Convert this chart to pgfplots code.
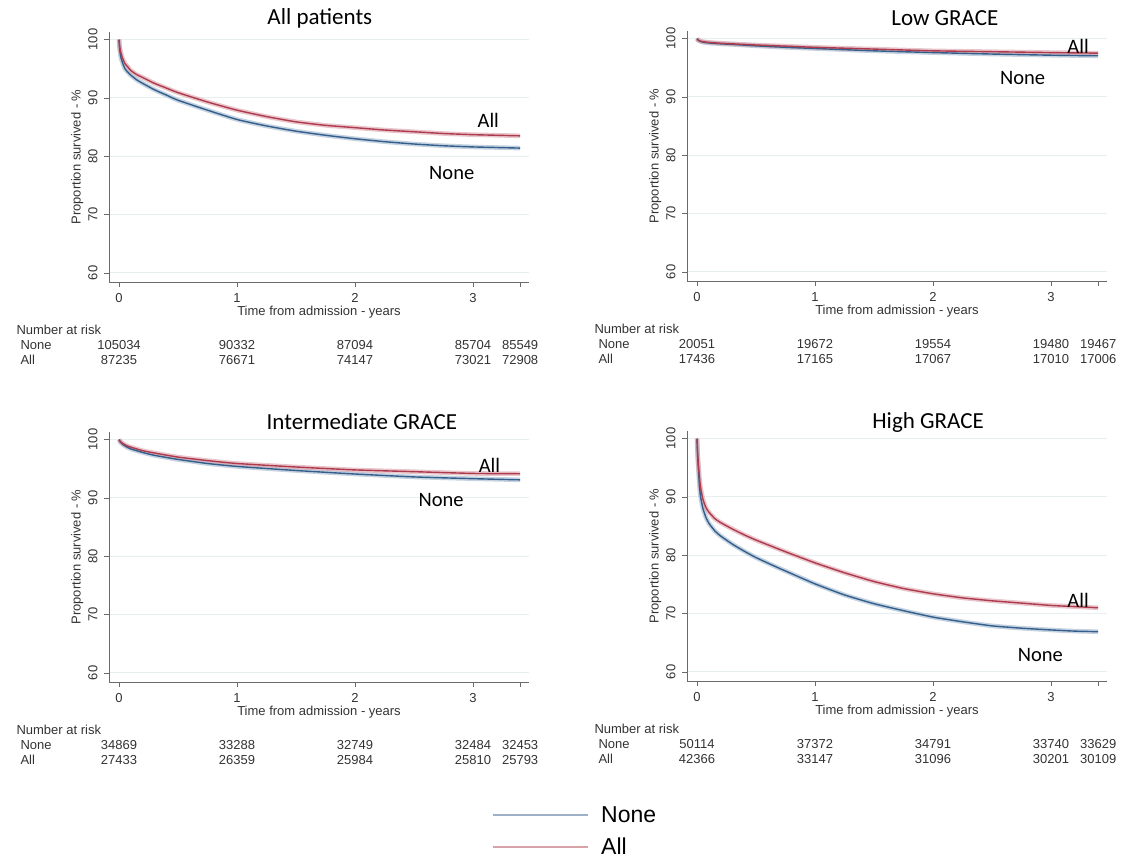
\documentclass[border=0pt]{standalone}
\usepackage{fontspec}
\setmainfont{Liberation Sans}
\newfontfamily\calfont{Carlito}
\usepackage{pgfplots}
\usepackage{pgfplotstable}
\pgfplotsset{compat=1.18}

\definecolor{noneline}{HTML}{345F8C}
\definecolor{noneband}{HTML}{9FB5CD}
\definecolor{allline}{HTML}{AE3A4E}
\definecolor{allband}{HTML}{DBA0A8}
\definecolor{legnone}{HTML}{9DB1C7}
\definecolor{legall}{HTML}{D8A2A9}
\definecolor{axgray}{HTML}{6A6A6A}
\definecolor{gridc}{HTML}{E6F0F0}

\pgfplotstableread{
t none all
0 100 100
0.005 98.4 98.9
0.015 97.0 97.8
0.03 96.0 96.8
0.05 95.0 95.9
0.075 94.4 95.3
0.1 93.9 94.7
0.15 93.1 94.0
0.2 92.5 93.5
0.3 91.4 92.5
0.4 90.5 91.7
0.5 89.6 90.9
0.75 87.9 89.3
1 86.3 87.9
1.25 85.2 86.8
1.5 84.3 85.9
1.75 83.6 85.3
2 83.0 84.9
2.25 82.5 84.5
2.5 82.1 84.2
2.75 81.8 83.9
3 81.6 83.7
3.2 81.5 83.6
3.4 81.4 83.5
}\tabAll

\pgfplotstableread{
t none all
0 100 100
0.01 99.7 99.75
0.03 99.5 99.55
0.06 99.35 99.45
0.1 99.25 99.35
0.2 99.1 99.2
0.3 99.0 99.1
0.5 98.75 98.9
0.75 98.5 98.7
1 98.3 98.5
1.5 97.9 98.2
2 97.6 97.9
2.5 97.35 97.75
3 97.15 97.6
3.4 97.05 97.5
}\tabLow

\pgfplotstableread{
t none all
0 100 100
0.01 99.6 99.7
0.03 99.2 99.35
0.06 98.8 99.0
0.1 98.4 98.7
0.2 97.8 98.1
0.3 97.3 97.7
0.5 96.6 97.0
0.75 95.9 96.4
1 95.4 95.9
1.5 94.7 95.3
2 94.1 94.8
2.5 93.6 94.5
3 93.3 94.2
3.4 93.1 94.15
}\tabInt

\pgfplotstableread{
t none all
0 100 100
0.005 97.0 97.6
0.01 95.3 96.0
0.02 92.0 93.4
0.03 90.0 91.6
0.05 88.0 89.6
0.075 86.5 88.2
0.1 85.5 87.4
0.15 84.2 86.3
0.2 83.3 85.6
0.3 81.9 84.5
0.4 80.7 83.5
0.5 79.6 82.6
0.65 78.2 81.4
0.75 77.3 80.6
1 75.1 78.7
1.25 73.2 77.0
1.5 71.7 75.5
1.75 70.5 74.3
2 69.4 73.4
2.25 68.6 72.7
2.5 67.9 72.2
2.75 67.5 71.8
3 67.2 71.4
3.2 67.0 71.2
3.4 66.9 71.0
}\tabHigh

\tikzset{
  rtext/.style={font=\fontsize{13}{15}\selectfont, text=black!80},
  ttext/.style={font=\calfont\fontsize{23}{26}\selectfont},
  atext/.style={font=\calfont\fontsize{20.5}{23}\selectfont},
}

\pgfplotsset{
  kmpanel/.style={
    anchor=south west,
    scale only axis,
    width=420pt, height=250pt,
    xmin=-0.085, xmax=3.475,
    ymin=58.45, ymax=101.3,
    axis lines*=left,
    axis line style={draw=axgray, line width=0.9pt, -},
    xtick={0,1,2,3,3.4},
    xticklabels={0,1,2,3,{}},
    ytick={60,70,80,90,100},
    tick align=outside,
    major tick length=5pt,
    tick style={draw=axgray, line width=0.8pt},
    ymajorgrids,
    major grid style={draw=gridc, line width=1pt},
    /pgf/number format/assume math mode=true,
    tick label style={font=\fontsize{13}{15}\selectfont, text=black!80},
    yticklabel style={xshift=-3pt, rotate=90, anchor=south},
    xticklabel style={yshift=-3pt},
    label style={font=\fontsize{13}{15}\selectfont, text=black!80},
    xlabel={Time from admission - years},
    ylabel={Proportion survived - \%},
    xlabel style={yshift=4pt},
    ylabel style={yshift=-2pt},
    clip=false,
  },
  band/.style={line width=4.6pt, opacity=0.6, smooth, tension=0.3, forget plot},
  curve/.style={line width=1.4pt, smooth, tension=0.3, forget plot},
}

\newcommand{\risk}[2]{% #1 = none list, #2 = all list
  \node[rtext, anchor=west] at ([xshift=-96pt, yshift=-48pt]rel axis cs:0,0) {Number at risk};
  \node[rtext, anchor=west] at ([xshift=-92pt, yshift=-63pt]rel axis cs:0,0) {None};
  \node[rtext, anchor=west] at ([xshift=-92pt, yshift=-78pt]rel axis cs:0,0) {All};
  \foreach \xx/\vv in {#1} {
    \edef\tmp{\noexpand\node[rtext] at ([yshift=-63pt]axis cs:\xx,58.45) {\vv};}\tmp
  }
  \foreach \xx/\vv in {#2} {
    \edef\tmp{\noexpand\node[rtext] at ([yshift=-78pt]axis cs:\xx,58.45) {\vv};}\tmp
  }
}

\newcommand{\curves}[1]{%
  \addplot[band, noneband] table[x=t, y=none] {#1};
  \addplot[band, allband] table[x=t, y=all] {#1};
  \addplot[curve, noneline] table[x=t, y=none] {#1};
  \addplot[curve, allline] table[x=t, y=all] {#1};
}

\begin{document}
\begin{tikzpicture}[x=1pt, y=1pt]
\useasboundingbox (0,0) rectangle (1126,859);

% Top-left: All patients
\begin{axis}[kmpanel, at={(109pt,577pt)}]
  \curves{\tabAll}
  \node[ttext] at (rel axis cs:0.502,1.056) {All patients};
  \node[atext] at (axis cs:3.13,86.2) {All};
  \node[atext] at (axis cs:2.82,77.1) {None};
  \risk{0/105034,1/90332,2/87094,3/85704,3.4/85549}{0/87235,1/76671,2/74147,3/73021,3.4/72908}
\end{axis}

% Top-right: Low GRACE
\begin{axis}[kmpanel, at={(687pt,578pt)}]
  \curves{\tabLow}
  \node[ttext] at (rel axis cs:0.614,1.052) {Low GRACE};
  \node[atext] at (axis cs:3.23,98.7) {All};
  \node[atext] at (axis cs:2.76,93.2) {None};
  \risk{0/20051,1/19672,2/19554,3/19480,3.4/19467}{0/17436,1/17165,2/17067,3/17010,3.4/17006}
\end{axis}

% Bottom-left: Intermediate GRACE
\begin{axis}[kmpanel, at={(109pt,177pt)},
  legend style={at={(axis description cs:0.912,-0.596)}, anchor=west, draw=none, fill=none,
    font=\fontsize{23}{26}\selectfont, inner sep=0pt, row sep=10pt},
  legend cell align=left,
  legend image code/.code={\draw[#1] (0pt,0pt) -- (95pt,0pt);},
  ]
  \curves{\tabInt}
  \addlegendimage{legnone, line width=2pt}
  \addlegendentry{\hspace{10pt}None}
  \addlegendimage{legall, line width=2pt}
  \addlegendentry{\hspace{10pt}All}
  \node[ttext] at (rel axis cs:0.602,1.04) {Intermediate GRACE};
  \node[atext] at (axis cs:3.14,95.5) {All};
  \node[atext] at (axis cs:2.73,89.6) {None};
  \risk{0/34869,1/33288,2/32749,3/32484,3.4/32453}{0/27433,1/26359,2/25984,3/25810,3.4/25793}
\end{axis}

% Bottom-right: High GRACE
\begin{axis}[kmpanel, at={(687pt,178pt)}]
  \curves{\tabHigh}
  \node[ttext] at (rel axis cs:0.574,1.036) {High GRACE};
  \node[atext] at (axis cs:3.23,72.2) {All};
  \node[atext] at (axis cs:2.91,62.9) {None};
  \risk{0/50114,1/37372,2/34791,3/33740,3.4/33629}{0/42366,1/33147,2/31096,3/30201,3.4/30109}
\end{axis}
\end{tikzpicture}
\end{document}
